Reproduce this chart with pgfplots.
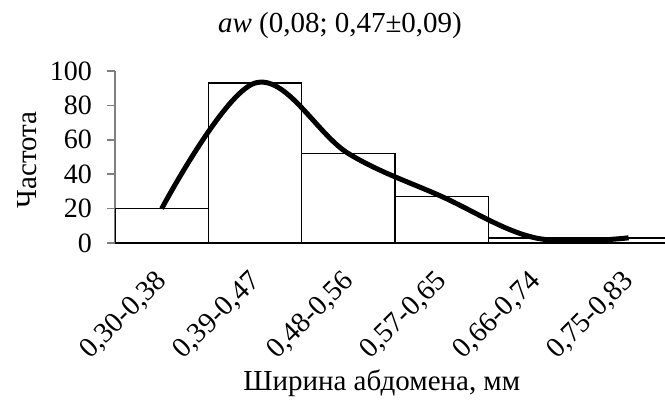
\documentclass[border=0pt]{standalone}
\usepackage{pgfplots}
\pgfplotsset{compat=1.18}
\usepackage{fontspec}
\setmainfont{Liberation Serif}
\begin{document}
\begin{tikzpicture}
\path[use as bounding box] (0,0) rectangle (332.5pt,209pt);
\begin{axis}[
  at={(57.5pt,87.5pt)}, anchor=south west,
  width=275pt, height=86pt, scale only axis,
  xmin=-0.5, xmax=5.39, ymin=0, ymax=100,
  ytick={0,20,...,100},
  xtick={0,1,2,3,4,5},
  xticklabels={{0,30-0,38},{0,39-0,47},{0,48-0,56},{0,57-0,65},{0,66-0,74},{0,75-0,83}},
  xticklabel style={xshift=3pt, yshift=-10.5pt, rotate=45, anchor=east, font=\fontsize{14.3}{16}\selectfont},
  yticklabel style={xshift=-4pt, font=\fontsize{14}{16}\selectfont},
  /pgf/number format/assume math mode=true,
  axis x line*=bottom, axis y line*=left,
  axis line style={gray, line width=0.8pt, -},
  xtick style={draw=none},
  ytick style={gray, line width=0.8pt},
  tick align=outside, major tick length=4pt,
  title={\textit{aw} (0,08; 0,47±0,09)},
  title style={at={(rel axis cs:0.409,1.267)}, anchor=center, yshift=-6pt, font=\fontsize{14.5}{16}\selectfont},
  xlabel={Ширина абдомена, мм},
  xlabel style={at={(rel axis cs:0.485,-0.814)}, anchor=center, font=\fontsize{14.5}{16}\selectfont},
  ylabel={Частота},
  ylabel style={at={(rel axis cs:-0.16,0.483)}, anchor=center, font=\fontsize{14.5}{16}\selectfont},
  clip=true,
]
\addplot[ybar, bar width=1, fill=white, draw=black, line width=0.7pt] coordinates {(0,20) (1,93) (2,52) (3,27) (4,3) (5,3)};
\addplot[smooth, tension=0.6, line width=2.5pt, black, no marks] coordinates {(0,20) (1,93) (2,52) (3,27) (4,3) (5,3)};
\end{axis}
\end{tikzpicture}
\end{document}
